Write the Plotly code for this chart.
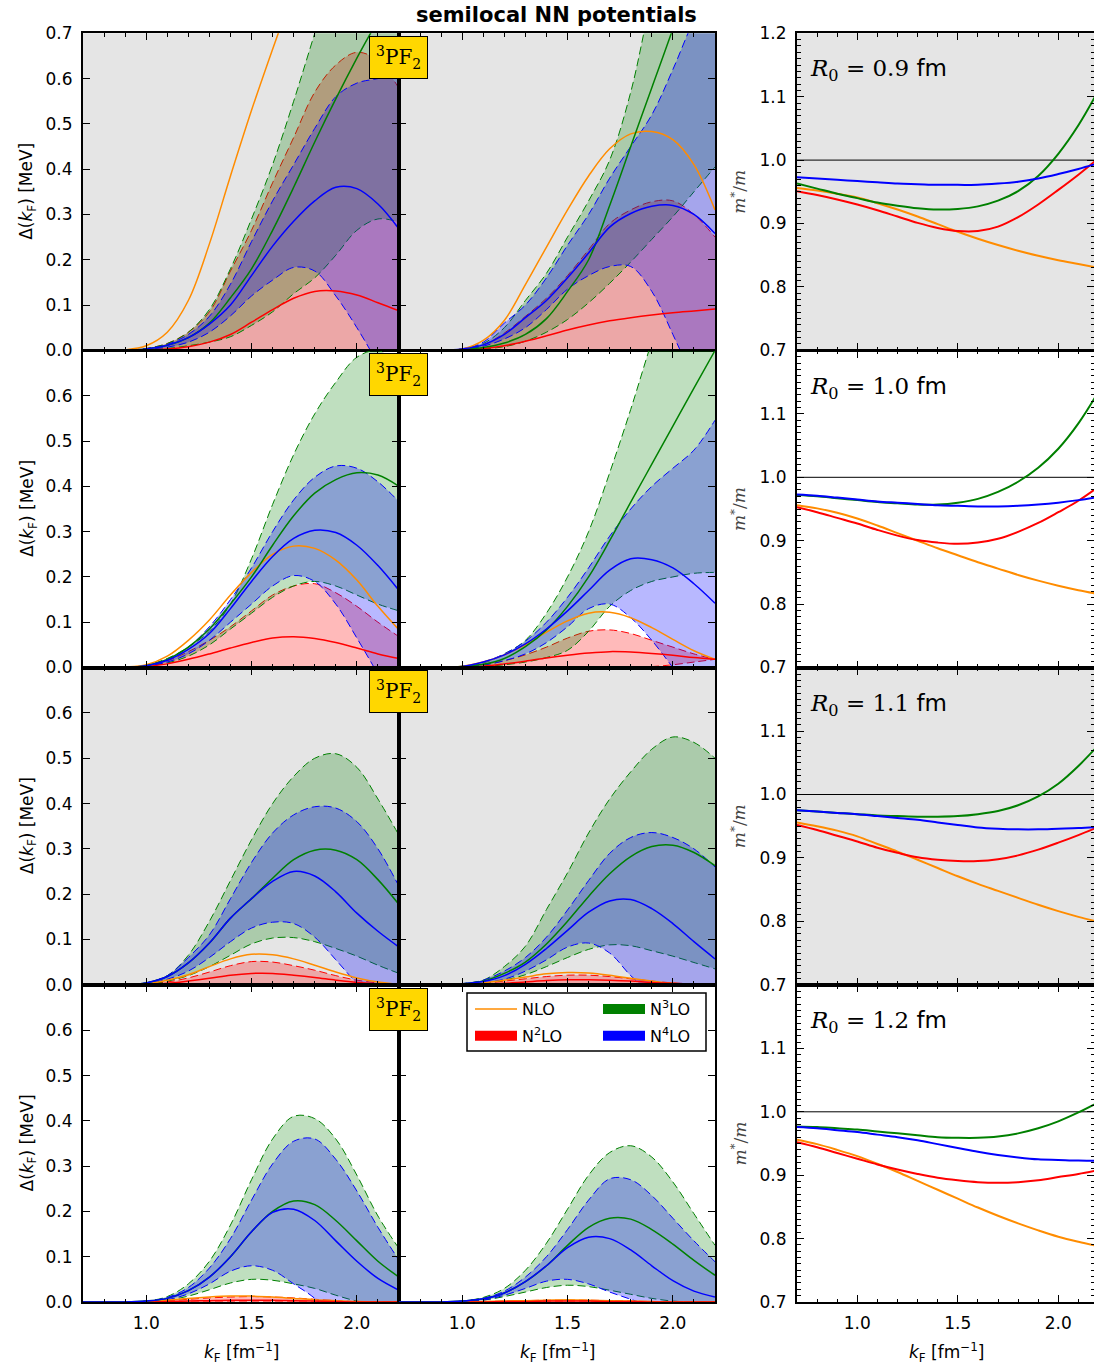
import plotly.graph_objects as go

# ---------------- data ----------------
k = [0.7, 0.8, 0.9, 1.0, 1.1, 1.2, 1.3, 1.4, 1.5, 1.6, 1.7, 1.8, 1.9, 2.0, 2.1, 2.2]

# R0 = 0.9 fm, left panel
a09_nlo = [0, 0, 0.001, 0.01, 0.04, 0.11, 0.235, 0.385, 0.53, 0.665, 0.795, 0.925, 1.055, 1.185, 1.315, 1.445]
a09_n2 = [0, 0, 0, 0.001, 0.003, 0.008, 0.018, 0.035, 0.062, 0.09, 0.115, 0.13, 0.131, 0.122, 0.105, 0.087]
a09_n2_lo = [0, 0, 0, 0, 0, 0, 0, 0, 0, 0, 0, 0, 0, 0, 0, 0]
a09_n2_hi = [0, 0, 0, 0.004, 0.015, 0.04, 0.085, 0.175, 0.265, 0.37, 0.47, 0.57, 0.63, 0.658, 0.64, 0.578]
a09_n3 = [0, 0, 0, 0.003, 0.011, 0.028, 0.06, 0.116, 0.18, 0.265, 0.36, 0.46, 0.555, 0.645, 0.73, 0.82]
a09_n3_lo = [0, 0, 0, 0.001, 0.004, 0.01, 0.018, 0.03, 0.055, 0.085, 0.125, 0.16, 0.21, 0.265, 0.29, 0.283]
a09_n3_hi = [0, 0, 0, 0.004, 0.015, 0.04, 0.09, 0.18, 0.29, 0.41, 0.55, 0.7, 0.85, 1.0, 1.12, 1.24]
a09_n4 = [0, 0, 0, 0.003, 0.011, 0.028, 0.058, 0.1, 0.165, 0.23, 0.285, 0.33, 0.36, 0.357, 0.323, 0.268]
a09_n4_lo = [0, 0, 0, 0.002, 0.007, 0.018, 0.04, 0.076, 0.12, 0.155, 0.183, 0.175, 0.12, 0.05, -0.03, -0.12]
a09_n4_hi = [0, 0, 0, 0.003, 0.013, 0.035, 0.075, 0.146, 0.24, 0.33, 0.41, 0.49, 0.56, 0.59, 0.6, 0.61]

# R0 = 0.9 fm, right panel
b09_nlo = [0, 0, 0, 0.003, 0.022, 0.066, 0.145, 0.228, 0.31, 0.385, 0.445, 0.478, 0.483, 0.465, 0.41, 0.31]
b09_n2 = [0, 0, 0, 0.001, 0.004, 0.01, 0.02, 0.032, 0.045, 0.056, 0.065, 0.072, 0.078, 0.083, 0.087, 0.091]
b09_n2_lo = [0, 0, 0, 0, 0, 0, 0, 0, 0, 0, 0, 0, 0, 0, 0, 0]
b09_n2_hi = [0, 0, 0, 0.003, 0.012, 0.038, 0.075, 0.115, 0.165, 0.222, 0.28, 0.31, 0.328, 0.33, 0.3, 0.25]
b09_n3 = [0, 0, 0, 0.002, 0.006, 0.016, 0.035, 0.07, 0.13, 0.2, 0.32, 0.45, 0.58, 0.71, 0.85, 1.0]
b09_n3_lo = [0, 0, 0, 0.001, 0.003, 0.008, 0.02, 0.04, 0.068, 0.105, 0.148, 0.195, 0.245, 0.295, 0.35, 0.405]
b09_n3_hi = [0, 0, 0, 0.003, 0.015, 0.05, 0.11, 0.17, 0.25, 0.33, 0.42, 0.57, 0.78, 0.95, 1.1, 1.25]
b09_n4 = [0, 0, 0, 0.003, 0.012, 0.035, 0.072, 0.11, 0.16, 0.215, 0.272, 0.302, 0.318, 0.32, 0.3, 0.258]
b09_n4_lo = [0, 0, 0, 0.002, 0.009, 0.025, 0.05, 0.09, 0.135, 0.165, 0.185, 0.185, 0.13, 0.035, -0.07, -0.2]
b09_n4_hi = [0, 0, 0, 0.003, 0.018, 0.06, 0.1, 0.16, 0.232, 0.3, 0.38, 0.45, 0.52, 0.62, 0.73, 0.82]

# R0 = 1.0 fm, left panel
a10_nlo = [0, 0, 0.001, 0.006, 0.025, 0.06, 0.105, 0.16, 0.21, 0.25, 0.268, 0.263, 0.237, 0.193, 0.135, 0.083]
a10_n2 = [0, 0, 0, 0.002, 0.008, 0.018, 0.03, 0.043, 0.055, 0.065, 0.068, 0.064, 0.055, 0.043, 0.03, 0.02]
a10_n2_lo = [0, 0, 0, 0, 0, 0, 0, 0, 0, 0, 0, 0, 0, 0, 0, 0]
a10_n2_hi = [0, 0, 0, 0.004, 0.015, 0.035, 0.06, 0.09, 0.125, 0.16, 0.18, 0.185, 0.165, 0.135, 0.1, 0.068]
a10_n3 = [0, 0, 0, 0.004, 0.018, 0.045, 0.085, 0.14, 0.2, 0.27, 0.335, 0.385, 0.415, 0.43, 0.425, 0.4]
a10_n3_lo = [0, 0, 0, 0.003, 0.01, 0.025, 0.05, 0.085, 0.12, 0.155, 0.18, 0.19, 0.18, 0.16, 0.14, 0.125]
a10_n3_hi = [0, 0, 0, 0.005, 0.02, 0.045, 0.08, 0.14, 0.24, 0.36, 0.47, 0.56, 0.63, 0.685, 0.7, 0.67]
a10_n4 = [0, 0, 0, 0.004, 0.016, 0.04, 0.075, 0.13, 0.19, 0.245, 0.285, 0.303, 0.298, 0.27, 0.225, 0.17]
a10_n4_lo = [0, 0, 0, 0.003, 0.012, 0.03, 0.06, 0.1, 0.14, 0.18, 0.203, 0.19, 0.14, 0.065, -0.015, -0.1]
a10_n4_hi = [0, 0, 0, 0.005, 0.018, 0.045, 0.09, 0.15, 0.22, 0.3, 0.37, 0.42, 0.445, 0.44, 0.41, 0.366]

# R0 = 1.0 fm, right panel
b10_nlo = [0, 0, 0, 0.003, 0.012, 0.028, 0.05, 0.078, 0.103, 0.12, 0.122, 0.11, 0.088, 0.062, 0.037, 0.018]
b10_n2 = [0, 0, 0, 0.001, 0.003, 0.008, 0.014, 0.021, 0.027, 0.032, 0.035, 0.034, 0.031, 0.027, 0.022, 0.018]
b10_n2_lo = [0, 0, 0, 0, 0, 0, 0, 0, 0, 0, 0, 0, 0.002, 0.006, 0.012, 0.018]
b10_n2_hi = [0, 0, 0, 0.002, 0.006, 0.015, 0.028, 0.045, 0.065, 0.08, 0.083, 0.075, 0.06, 0.045, 0.03, 0.018]
b10_n3 = [0, 0, 0, 0.002, 0.007, 0.02, 0.046, 0.083, 0.135, 0.2, 0.28, 0.365, 0.449, 0.533, 0.617, 0.7]
b10_n3_lo = [0, 0, 0, 0.001, 0.002, 0.006, 0.012, 0.022, 0.038, 0.08, 0.135, 0.17, 0.19, 0.2, 0.208, 0.21]
b10_n3_hi = [0, 0, 0, 0.002, 0.01, 0.03, 0.06, 0.12, 0.2, 0.3, 0.43, 0.57, 0.72, 0.86, 1.0, 1.15]
b10_n4 = [0, 0, 0, 0.002, 0.012, 0.028, 0.052, 0.085, 0.125, 0.17, 0.215, 0.24, 0.238, 0.22, 0.185, 0.142]
b10_n4_lo = [0, 0, 0, 0.001, 0.005, 0.015, 0.03, 0.055, 0.09, 0.13, 0.14, 0.11, 0.06, 0.0, -0.06, -0.12]
b10_n4_hi = [0, 0, 0, 0.002, 0.012, 0.03, 0.058, 0.1, 0.155, 0.22, 0.29, 0.35, 0.4, 0.44, 0.48, 0.546]

# R0 = 1.1 fm, left panel
a11_nlo = [0, 0, 0, 0.002, 0.01, 0.022, 0.04, 0.057, 0.067, 0.066, 0.057, 0.043, 0.028, 0.015, 0.006, 0.001]
a11_n2 = [0, 0, 0, 0.001, 0.003, 0.008, 0.014, 0.021, 0.025, 0.025, 0.021, 0.016, 0.01, 0.005, 0.002, 0]
a11_n2_lo = [0, 0, 0, 0, 0, 0, 0, 0, 0, 0, 0, 0, 0, 0, 0, 0]
a11_n2_hi = [0, 0, 0, 0.002, 0.006, 0.015, 0.028, 0.042, 0.051, 0.05, 0.042, 0.032, 0.02, 0.01, 0.004, 0.001]
a11_n3 = [0, 0, 0, 0.004, 0.018, 0.048, 0.092, 0.147, 0.19, 0.235, 0.276, 0.297, 0.297, 0.276, 0.232, 0.177]
a11_n3_lo = [0, 0, 0, 0.001, 0.008, 0.02, 0.04, 0.065, 0.09, 0.103, 0.104, 0.095, 0.08, 0.063, 0.043, 0.025]
a11_n3_hi = [0, 0, 0, 0.004, 0.02, 0.065, 0.14, 0.23, 0.32, 0.4, 0.46, 0.5, 0.51, 0.48, 0.41, 0.33]
a11_n4 = [0, 0, 0, 0.004, 0.018, 0.048, 0.092, 0.147, 0.19, 0.228, 0.25, 0.24, 0.205, 0.158, 0.118, 0.083]
a11_n4_lo = [0, 0, 0, 0.002, 0.012, 0.03, 0.06, 0.095, 0.125, 0.138, 0.135, 0.105, 0.055, 0.002, -0.05, -0.1]
a11_n4_hi = [0, 0, 0, 0.004, 0.02, 0.06, 0.11, 0.19, 0.27, 0.335, 0.375, 0.393, 0.39, 0.36, 0.3, 0.217]

# R0 = 1.1 fm, right panel
b11_nlo = [0, 0, 0, 0.001, 0.004, 0.01, 0.017, 0.024, 0.027, 0.026, 0.021, 0.014, 0.008, 0.003, 0.001, 0]
b11_n2 = [0, 0, 0, 0, 0.001, 0.003, 0.006, 0.009, 0.011, 0.011, 0.01, 0.008, 0.005, 0.003, 0.001, 0]
b11_n2_lo = [0, 0, 0, 0, 0, 0, 0, 0, 0, 0, 0, 0, 0, 0, 0, 0]
b11_n2_hi = [0, 0, 0, 0.001, 0.003, 0.008, 0.013, 0.018, 0.021, 0.021, 0.018, 0.013, 0.008, 0.004, 0.002, 0.001]
b11_n3 = [0, 0, 0, 0.002, 0.008, 0.025, 0.05, 0.09, 0.14, 0.195, 0.245, 0.283, 0.305, 0.308, 0.292, 0.263]
b11_n3_lo = [0, 0, 0, 0.001, 0.003, 0.01, 0.022, 0.04, 0.06, 0.078, 0.088, 0.086, 0.075, 0.063, 0.049, 0.035]
b11_n3_hi = [0, 0, 0, 0.002, 0.01, 0.04, 0.085, 0.166, 0.247, 0.335, 0.41, 0.47, 0.52, 0.547, 0.535, 0.5]
b11_n4 = [0, 0, 0, 0.002, 0.007, 0.02, 0.045, 0.08, 0.12, 0.16, 0.185, 0.188, 0.168, 0.135, 0.095, 0.057]
b11_n4_lo = [0, 0, 0, 0.001, 0.004, 0.012, 0.03, 0.055, 0.083, 0.092, 0.07, 0.02, -0.02, -0.06, -0.1, -0.14]
b11_n4_hi = [0, 0, 0, 0.002, 0.01, 0.03, 0.06, 0.105, 0.165, 0.23, 0.29, 0.325, 0.336, 0.325, 0.3, 0.26]

# R0 = 1.2 fm, left panel
a12_nlo = [0, 0, 0, 0.001, 0.004, 0.008, 0.011, 0.013, 0.013, 0.011, 0.008, 0.005, 0.003, 0.001, 0, 0]
a12_n2 = [0, 0, 0, 0, 0.001, 0.002, 0.003, 0.004, 0.004, 0.004, 0.003, 0.002, 0.001, 0, 0, 0]
a12_n2_lo = [0, 0, 0, 0, 0, 0, 0, 0, 0, 0, 0, 0, 0, 0, 0, 0]
a12_n2_hi = [0, 0, 0, 0.001, 0.003, 0.006, 0.009, 0.011, 0.012, 0.011, 0.009, 0.006, 0.003, 0.001, 0, 0]
a12_n3 = [0, 0, 0, 0.002, 0.008, 0.025, 0.055, 0.1, 0.155, 0.2, 0.223, 0.215, 0.18, 0.135, 0.09, 0.055]
a12_n3_lo = [0, 0, 0, 0.001, 0.004, 0.013, 0.027, 0.042, 0.05, 0.048, 0.04, 0.03, 0.015, 0.002, -0.005, -0.01]
a12_n3_hi = [0, 0, 0, 0.002, 0.012, 0.04, 0.09, 0.17, 0.27, 0.36, 0.41, 0.405, 0.36, 0.28, 0.19, 0.118]
a12_n4 = [0, 0, 0, 0.002, 0.008, 0.025, 0.055, 0.1, 0.155, 0.198, 0.205, 0.18, 0.135, 0.09, 0.052, 0.026]
a12_n4_lo = [0, 0, 0, 0.001, 0.005, 0.018, 0.04, 0.068, 0.08, 0.07, 0.04, 0.008, -0.04, -0.08, -0.12, -0.16]
a12_n4_hi = [0, 0, 0, 0.002, 0.01, 0.032, 0.075, 0.14, 0.225, 0.305, 0.355, 0.36, 0.315, 0.245, 0.165, 0.092]

# R0 = 1.2 fm, right panel
b12_nlo = [0, 0, 0, 0, 0.001, 0.002, 0.003, 0.004, 0.005, 0.004, 0.003, 0.002, 0.001, 0, 0, 0]
b12_n2 = [0, 0, 0, 0, 0, 0.001, 0.001, 0.002, 0.002, 0.002, 0.001, 0.001, 0, 0, 0, 0]
b12_n2_lo = [0, 0, 0, 0, 0, 0, 0, 0, 0, 0, 0, 0, 0, 0, 0, 0]
b12_n2_hi = [0, 0, 0, 0, 0.001, 0.002, 0.003, 0.004, 0.004, 0.004, 0.003, 0.002, 0.001, 0, 0, 0]
b12_n3 = [0, 0, 0, 0.002, 0.007, 0.02, 0.045, 0.08, 0.125, 0.165, 0.185, 0.183, 0.16, 0.128, 0.092, 0.059]
b12_n3_lo = [0, 0, 0, 0.001, 0.004, 0.012, 0.022, 0.032, 0.037, 0.034, 0.026, 0.017, 0.008, 0.002, 0, 0]
b12_n3_hi = [0, 0, 0, 0.002, 0.01, 0.03, 0.07, 0.13, 0.205, 0.28, 0.33, 0.345, 0.32, 0.265, 0.195, 0.125]
b12_n4 = [0, 0, 0, 0.002, 0.007, 0.02, 0.045, 0.08, 0.12, 0.143, 0.14, 0.115, 0.08, 0.047, 0.024, 0.011]
b12_n4_lo = [0, 0, 0, 0.001, 0.004, 0.015, 0.03, 0.046, 0.05, 0.04, 0.022, 0.006, -0.01, -0.03, -0.05, -0.07]
b12_n4_hi = [0, 0, 0, 0.002, 0.008, 0.024, 0.055, 0.1, 0.16, 0.225, 0.272, 0.27, 0.235, 0.185, 0.135, 0.089]

# effective mass m*/m
m09_nlo = [0.956, 0.952, 0.947, 0.941, 0.932, 0.922, 0.911, 0.899, 0.887, 0.876, 0.866, 0.857, 0.849, 0.842, 0.836, 0.83]
m09_n2 = [0.951, 0.945, 0.938, 0.93, 0.921, 0.911, 0.901, 0.893, 0.888, 0.888, 0.895, 0.91, 0.93, 0.953, 0.977, 1.003]
m09_n3 = [0.963, 0.955, 0.947, 0.94, 0.933, 0.928, 0.924, 0.922, 0.923, 0.927, 0.936, 0.951, 0.975, 1.01, 1.055, 1.11]
m09_n4 = [0.973, 0.971, 0.969, 0.967, 0.965, 0.963, 0.962, 0.961, 0.961, 0.961, 0.963, 0.966, 0.971, 0.978, 0.986, 0.995]

m10_nlo = [0.956, 0.951, 0.944, 0.935, 0.924, 0.912, 0.9, 0.888, 0.877, 0.866, 0.856, 0.846, 0.837, 0.829, 0.822, 0.816]
m10_n2 = [0.953, 0.945, 0.936, 0.927, 0.917, 0.908, 0.901, 0.897, 0.895, 0.897, 0.903, 0.914, 0.928, 0.945, 0.963, 0.985]
m10_n3 = [0.972, 0.97, 0.967, 0.964, 0.961, 0.959, 0.957, 0.957, 0.96, 0.966, 0.977, 0.993, 1.015, 1.045, 1.085, 1.135]
m10_n4 = [0.973, 0.971, 0.968, 0.965, 0.962, 0.96, 0.958, 0.956, 0.955, 0.954, 0.954, 0.955, 0.957, 0.96, 0.964, 0.969]

m11_nlo = [0.956, 0.95, 0.943, 0.934, 0.922, 0.91, 0.897, 0.884, 0.871, 0.859, 0.848, 0.837, 0.826, 0.816, 0.807, 0.799]
m11_n2 = [0.952, 0.944, 0.935, 0.926, 0.916, 0.908, 0.901, 0.897, 0.895, 0.895, 0.898, 0.904, 0.913, 0.924, 0.936, 0.949]
m11_n3 = [0.975, 0.973, 0.971, 0.969, 0.967, 0.966, 0.965, 0.965, 0.966, 0.969, 0.974, 0.983, 0.997, 1.017, 1.045, 1.078]
m11_n4 = [0.975, 0.973, 0.971, 0.969, 0.966, 0.963, 0.96, 0.956, 0.952, 0.948, 0.946, 0.945, 0.945, 0.946, 0.947, 0.949]

m12_nlo = [0.956, 0.949, 0.94, 0.93, 0.918, 0.905, 0.891, 0.877, 0.863, 0.849, 0.836, 0.824, 0.813, 0.803, 0.795, 0.788]
m12_n2 = [0.952, 0.944, 0.935, 0.926, 0.917, 0.909, 0.902, 0.896, 0.892, 0.889, 0.888, 0.889, 0.892, 0.897, 0.902, 0.908]
m12_n3 = [0.977, 0.976, 0.974, 0.972, 0.969, 0.966, 0.963, 0.96, 0.959, 0.959, 0.961, 0.966, 0.974, 0.985, 0.999, 1.015]
m12_n4 = [0.976, 0.974, 0.971, 0.968, 0.964, 0.96, 0.955, 0.949, 0.943, 0.937, 0.932, 0.928, 0.925, 0.924, 0.923, 0.923]

R0_labels = ["0.9", "1.0", "1.1", "1.2"]

# ---------------- figure ----------------
W, H = 1094, 1365
ORANGE, RED, GREEN, BLUE = "#ff8c00", "#ff0000", "#008000", "#0000ff"
FILLS = {RED: "rgba(255,0,0,0.27)", GREEN: "rgba(0,128,0,0.25)", BLUE: "rgba(0,0,255,0.28)"}
COLX = {1: (83, 399), 2: (399, 715), 3: (797, 1094)}
ROWTOP = {1: 33.3, 2: 350.5, 3: 667.7, 4: 985.0}
RH = 317.0
GREY = "#e5e5e5"
FONT = "DejaVu Sans"

gap_panels = [
    (1, 1, a09_nlo, a09_n2, a09_n2_lo, a09_n2_hi, a09_n3, a09_n3_lo, a09_n3_hi, a09_n4, a09_n4_lo, a09_n4_hi),
    (1, 2, b09_nlo, b09_n2, b09_n2_lo, b09_n2_hi, b09_n3, b09_n3_lo, b09_n3_hi, b09_n4, b09_n4_lo, b09_n4_hi),
    (2, 1, a10_nlo, a10_n2, a10_n2_lo, a10_n2_hi, a10_n3, a10_n3_lo, a10_n3_hi, a10_n4, a10_n4_lo, a10_n4_hi),
    (2, 2, b10_nlo, b10_n2, b10_n2_lo, b10_n2_hi, b10_n3, b10_n3_lo, b10_n3_hi, b10_n4, b10_n4_lo, b10_n4_hi),
    (3, 1, a11_nlo, a11_n2, a11_n2_lo, a11_n2_hi, a11_n3, a11_n3_lo, a11_n3_hi, a11_n4, a11_n4_lo, a11_n4_hi),
    (3, 2, b11_nlo, b11_n2, b11_n2_lo, b11_n2_hi, b11_n3, b11_n3_lo, b11_n3_hi, b11_n4, b11_n4_lo, b11_n4_hi),
    (4, 1, a12_nlo, a12_n2, a12_n2_lo, a12_n2_hi, a12_n3, a12_n3_lo, a12_n3_hi, a12_n4, a12_n4_lo, a12_n4_hi),
    (4, 2, b12_nlo, b12_n2, b12_n2_lo, b12_n2_hi, b12_n3, b12_n3_lo, b12_n3_hi, b12_n4, b12_n4_lo, b12_n4_hi),
]
mass_panels = [
    (1, m09_nlo, m09_n2, m09_n3, m09_n4),
    (2, m10_nlo, m10_n2, m10_n3, m10_n4),
    (3, m11_nlo, m11_n2, m11_n3, m11_n4),
    (4, m12_nlo, m12_n2, m12_n3, m12_n4),
]


def names(r, c):
    i = (r - 1) * 3 + c
    s = "" if i == 1 else str(i)
    return "x" + s, "y" + s, "xaxis" + s, "yaxis" + s


fig = go.Figure()
layout = dict(
    width=W, height=H, margin=dict(l=0, r=0, t=0, b=0, pad=0, autoexpand=False),
    paper_bgcolor="white", plot_bgcolor="white",
    font=dict(family=FONT, size=16, color="black"),
    shapes=[], annotations=[],
)

DASH = "8px,4px"

for (r, c, nlo, n2, n2lo, n2hi, n3, n3lo, n3hi, n4, n4lo, n4hi) in gap_panels:
    xa, ya, _, _ = names(r, c)
    for lo, hi, col in [(n2lo, n2hi, RED), (n3lo, n3hi, GREEN), (n4lo, n4hi, BLUE)]:
        fig.add_trace(go.Scatter(x=k, y=lo, mode="lines", xaxis=xa, yaxis=ya, showlegend=False,
                                 hoverinfo="skip",
                                 line=dict(color=col, width=1, dash=DASH, shape="spline")))
        fig.add_trace(go.Scatter(x=k, y=hi, mode="lines", xaxis=xa, yaxis=ya, showlegend=False,
                                 hoverinfo="skip", fill="tonexty", fillcolor=FILLS[col],
                                 line=dict(color=col, width=1, dash=DASH, shape="spline")))
    for ys, col in [(nlo, ORANGE), (n2, RED), (n3, GREEN), (n4, BLUE)]:
        fig.add_trace(go.Scatter(x=k, y=ys, mode="lines", xaxis=xa, yaxis=ya, showlegend=False,
                                 hoverinfo="skip", line=dict(color=col, width=1.5, shape="spline")))

for (r, nlo, n2, n3, n4) in mass_panels:
    xa, ya, _, _ = names(r, 3)
    for ys, col in [(nlo, ORANGE), (n2, RED), (n3, GREEN), (n4, BLUE)]:
        fig.add_trace(go.Scatter(x=k, y=ys, mode="lines", xaxis=xa, yaxis=ya, showlegend=False,
                                 hoverinfo="skip", line=dict(color=col, width=2, shape="spline")))

# legend entries
leg_x, leg_y = names(4, 2)[0], names(4, 2)[1]
for rank, (name, col, w, lg) in enumerate([("NLO", ORANGE, 1.5, "legend"),
                                           ("N<sup>2</sup>LO", RED, 12, "legend"),
                                           ("N<sup>3</sup>LO", GREEN, 12, "legend2"),
                                           ("N<sup>4</sup>LO", BLUE, 12, "legend2")]):
    fig.add_trace(go.Scatter(x=[None], y=[None], mode="lines", xaxis=leg_x, yaxis=leg_y,
                             name=name, legend=lg, legendrank=rank + 1, legendgroup="g%d" % rank,
                             line=dict(color=col, width=w)))

common_axis = dict(showline=True, linecolor="black", linewidth=2, mirror="allticks",
                   ticks="inside", ticklen=7, tickwidth=1.2, tickcolor="black",
                   showgrid=False, zeroline=False, automargin=False, ticklabelstandoff=5,
                   tickfont=dict(family=FONT, size=17, color="black"))

for r in range(1, 5):
    y0 = 1 - (ROWTOP[r] + RH) / H
    y1 = 1 - ROWTOP[r] / H
    for c in range(1, 4):
        xa, ya, xk, yk = names(r, c)
        x0 = COLX[c][0] / W
        x1 = COLX[c][1] / W
        if c < 3:
            xrange = [0.7, 2.2]
            yrange = [0.0, 0.7]
            ytv = [0.0, 0.1, 0.2, 0.3, 0.4, 0.5, 0.6, 0.7] if r == 1 else [0.0, 0.1, 0.2, 0.3, 0.4, 0.5, 0.6]
            yminor = dict(ticks="")
        else:
            xrange = [0.7, 0.7 + (1094 - 797) / 201.0]
            yrange = [0.7, 1.2]
            ytv = [0.7, 0.8, 0.9, 1.0, 1.1, 1.2] if r == 1 else [0.7, 0.8, 0.9, 1.0, 1.1]
            yminor = dict(ticks="inside", dtick=0.01, ticklen=3.5, tickcolor="black", tickwidth=1, showgrid=False)
        layout[xk] = dict(common_axis, domain=[x0, x1], range=xrange, anchor=ya,
                          tickvals=[1.0, 1.5, 2.0], tickformat=".1f",
                          showticklabels=(r == 4),
                          minor=dict(ticks="inside", dtick=0.1, tick0=0.7, ticklen=3.5, tickcolor="black",
                                     tickwidth=1, showgrid=False))
        layout[yk] = dict(common_axis, domain=[y0, y1], range=yrange, anchor=xa,
                          tickvals=ytv, tickformat=".1f",
                          showticklabels=(c != 2), minor=yminor)
        if r in (1, 3):
            layout["shapes"].append(dict(type="rect", xref=xa + " domain", yref=ya + " domain",
                                         x0=0, x1=1, y0=0, y1=1, fillcolor=GREY,
                                         line=dict(width=0), layer="below"))
        if c == 3:
            layout["shapes"].append(dict(type="line", xref=xa + " domain", yref=ya,
                                         x0=0, x1=1, y0=1.0, y1=1.0,
                                         line=dict(color="black", width=1), layer="below"))

    yc = 1 - (ROWTOP[r] + RH / 2) / H
    # y titles
    layout["annotations"].append(dict(text="Δ(<i>k</i><sub>F</sub>) [MeV]", x=28 / W, y=yc,
                                      xref="paper", yref="paper", xanchor="center", yanchor="middle",
                                      showarrow=False, textangle=-90,
                                      font=dict(family=FONT, size=17, color="black")))
    layout["annotations"].append(dict(text="<i>m</i><sup>*</sup>/<i>m</i>", x=738 / W, y=yc,
                                      xref="paper", yref="paper", xanchor="center", yanchor="middle",
                                      showarrow=False, textangle=-90,
                                      font=dict(family="DejaVu Serif", size=17, color="#444")))
    # partial wave label
    layout["annotations"].append(dict(text="<sup>3</sup>PF<sub>2</sub>", x=398.5 / W,
                                      y=1 - (ROWTOP[r] + 24) / H, xref="paper", yref="paper",
                                      xanchor="center", yanchor="middle",
                                      showarrow=False, bgcolor="#ffd700", bordercolor="black",
                                      borderwidth=1, borderpad=6,
                                      font=dict(family="DejaVu Serif", size=20, color="black")))
    # R0 label
    layout["annotations"].append(dict(
        text="<i>R</i><sub>0</sub> = " + R0_labels[r - 1] + " <span style=\"font-family:'DejaVu Sans'\">fm</span>",
        x=808 / W, y=1 - (ROWTOP[r] + 37) / H, xref="paper", yref="paper", xanchor="left",
        yanchor="middle", showarrow=False, font=dict(family="DejaVu Serif", size=23, color="black")))

# x titles
for xc in [241, 557, 946]:
    layout["annotations"].append(dict(text="<i>k</i><sub>F</sub> [fm<sup>−1</sup>]", x=xc / W,
                                      y=1 - 1352 / H, xref="paper", yref="paper", showarrow=False,
                                      xanchor="center", yanchor="middle",
                                      font=dict(family=FONT, size=17, color="black")))
# title
layout["annotations"].append(dict(text="<b>semilocal NN potentials</b>", x=556 / W, y=1 - 15 / H,
                                  xref="paper", yref="paper", showarrow=False,
                                  xanchor="center", yanchor="middle",
                                  font=dict(family=FONT, size=21, color="black")))

# legend frame
layout["shapes"].append(dict(type="rect", xref="paper", yref="paper", x0=467 / W, x1=706 / W,
                             y0=1 - 1051 / H, y1=1 - 993 / H, fillcolor="white",
                             line=dict(color="black", width=1.5), layer="above"))
layout["legend"] = dict(x=470 / W, y=1 - 992 / H, xanchor="left", yanchor="top",
                        bgcolor="rgba(0,0,0,0)", borderwidth=0, itemwidth=42,
                        traceorder="grouped", tracegroupgap=3,
                        font=dict(family=FONT, size=16, color="black"))
layout["legend2"] = dict(x=598 / W, y=1 - 992 / H, xanchor="left", yanchor="top",
                         bgcolor="rgba(0,0,0,0)", borderwidth=0, itemwidth=42,
                         traceorder="grouped", tracegroupgap=3,
                         font=dict(family=FONT, size=16, color="black"))

fig.update_layout(**layout)
fig.write_html("out.html")
